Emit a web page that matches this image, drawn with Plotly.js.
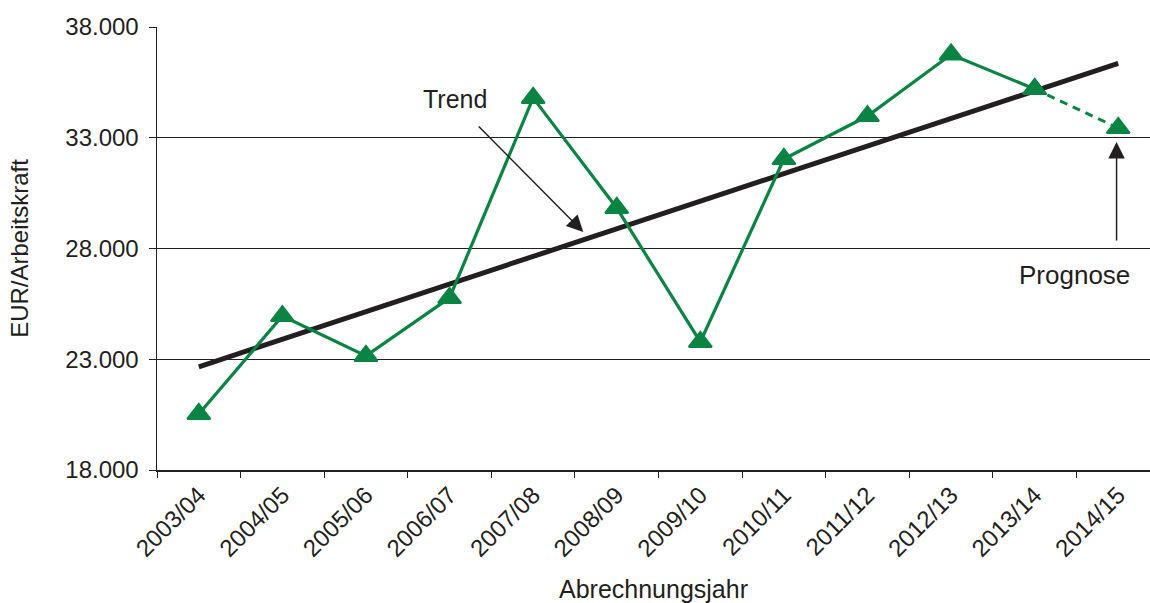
<!DOCTYPE html>
<html>
<head>
<meta charset="utf-8">
<script src="https://cdn.plot.ly/plotly-3.0.1.min.js"></script>
<style>html,body{margin:0;padding:0;background:#fff;}#chart{width:1150px;height:603px;}</style>
</head>
<body>
<div id="chart"></div>
<script>
const years = ['2003/04','2004/05','2005/06','2006/07','2007/08','2008/09','2009/10','2010/11','2011/12','2012/13','2013/14','2014/15'];
const actualYears = years.slice(0, 11);
const actualValues = [20530, 24950, 23150, 25770, 34800, 29830, 23780, 32040, 33980, 36760, 35200];
const forecastYears = ['2013/14', '2014/15'];
const forecastValues = [35200, 33440];
const trendYears = ['2003/04', '2014/15'];
const trendValues = [22660, 36360];
const yTicks = [18000, 23000, 28000, 33000, 38000];

const green = '#0a8442';
const ink = '#231f20';
const font = 'Liberation Sans, Arial, sans-serif';

const traces = [
  {x: trendYears, y: trendValues, mode: 'lines', line: {color: ink, width: 5}, hoverinfo: 'skip'},
  {x: forecastYears, y: forecastValues, mode: 'lines+markers', line: {color: green, width: 3, dash: '8px,6px'},
   marker: {symbol: 'triangle-up', size: 20, color: green, line: {color: green, width: 2}}},
  {x: actualYears, y: actualValues, mode: 'lines+markers', line: {color: green, width: 3.2},
   marker: {symbol: 'triangle-up', size: 20, color: green, line: {color: green, width: 2}}}
];

const layout = {
  width: 1150, height: 603,
  margin: {l: 157, r: 0, t: 27, b: 133},
  paper_bgcolor: '#fff', plot_bgcolor: '#fff',
  showlegend: false,
  separators: ',.',
  font: {family: font, color: ink, size: 24},
  xaxis: {
    type: 'category', categoryarray: years, categoryorder: 'array',
    range: [-0.5, 11.38],
    tickangle: -45, tickson: 'boundaries', ticks: 'outside', ticklen: 6, tickcolor: ink, tickwidth: 1,
    showline: true, linecolor: ink, linewidth: 1.5, showgrid: false, zeroline: false,
    tickfont: {size: 24, family: font, color: ink},
    title: {text: 'Abrechnungsjahr', font: {size: 25, family: font, color: ink}, standoff: 22},
    automargin: false, fixedrange: true
  },
  yaxis: {
    range: [18000, 38000], tickvals: yTicks, tickformat: ',d',
    ticks: 'outside', ticklen: 7, tickcolor: ink, tickwidth: 1, ticklabelstandoff: 5,
    showline: true, linecolor: ink, linewidth: 1.5,
    showgrid: true, gridcolor: ink, gridwidth: 1, zeroline: false,
    tickfont: {size: 24, family: font, color: ink},
    title: {text: 'EUR/Arbeitskraft', font: {size: 24, family: font, color: ink}, standoff: 30},
    automargin: false, fixedrange: true
  },
  annotations: [
    {x: 3.065, y: 34749, xref: 'x', yref: 'y', text: 'Trend', showarrow: false,
     font: {size: 25, family: font, color: ink}},
    {x: 4.60, y: 28745, xref: 'x', yref: 'y', text: '', showarrow: true,
     ax: -106, ay: -107, arrowhead: 2, arrowsize: 2.2, arrowwidth: 1.5, arrowcolor: ink},
    {x: 10.48, y: 26804, xref: 'x', yref: 'y', text: 'Prognose', showarrow: false,
     font: {size: 26, family: font, color: ink}},
    {x: 10.98, y: 32808, xref: 'x', yref: 'y', text: '', showarrow: true,
     ax: 0, ay: 100, arrowhead: 2, arrowsize: 2.2, arrowwidth: 1.5, arrowcolor: ink}
  ]
};

Plotly.newPlot('chart', traces, layout, {displayModeBar: false, staticPlot: true});
</script>
</body>
</html>
